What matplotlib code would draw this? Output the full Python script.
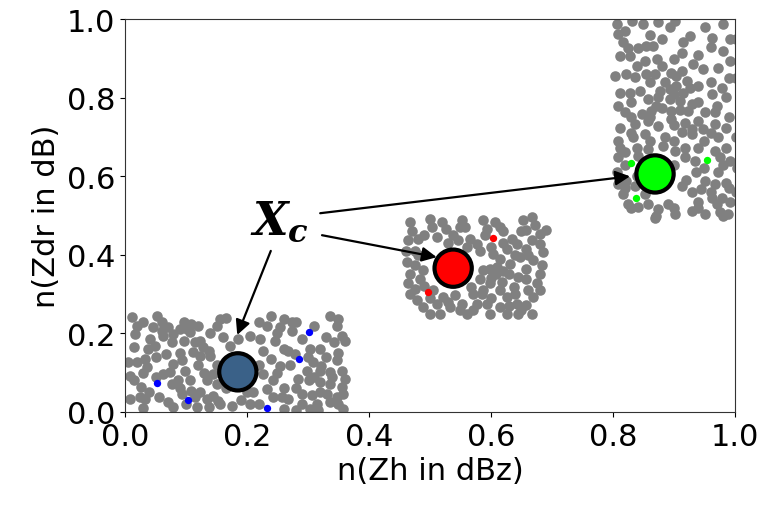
import numpy as np
import matplotlib
matplotlib.use("Agg")
import matplotlib.pyplot as plt

plt.rcParams['mathtext.fontset'] = 'custom'
plt.rcParams['mathtext.it'] = 'DejaVu Serif:italic:bold'
plt.rcParams['mathtext.rm'] = 'DejaVu Serif:bold'

# ---- gray scattered samples, three clusters (data coords) ----
cluster_low = np.array([
    [0.011,0.241],[0.030,0.228],[0.052,0.243],[0.096,0.228],[0.109,0.224],[0.156,0.237],[0.150,0.220],
    [0.016,0.198],[0.046,0.215],[0.060,0.207],[0.071,0.215],[0.063,0.194],[0.079,0.198],[0.077,0.177],
    [0.101,0.211],[0.107,0.203],[0.014,0.165],[0.041,0.186],[0.049,0.169],[0.038,0.160],[0.096,0.181],
    [0.115,0.177],[0.123,0.181],[0.128,0.165],[0.137,0.156],[0.139,0.143],[0.005,0.126],[0.019,0.126],
    [0.033,0.135],[0.036,0.114],[0.068,0.148],[0.079,0.122],[0.093,0.131],[0.098,0.105],[0.112,0.152],
    [0.123,0.143],[0.172,0.169],[0.008,0.092],[0.014,0.080],[0.027,0.063],[0.025,0.037],[0.033,0.033],
    [0.063,0.097],[0.074,0.101],[0.077,0.071],[0.087,0.080],[0.107,0.080],[0.109,0.054],[0.134,0.080],
    [0.145,0.097],[0.008,0.033],[0.055,0.037],[0.071,0.025],[0.079,0.012],[0.093,0.046],[0.115,0.037],
    [0.123,0.050],[0.134,0.033],[0.145,0.041],[0.153,0.029],[0.156,0.020],[0.118,0.012],[0.137,0.012],
    [0.165,0.240],[0.185,0.185],[0.190,0.030],[0.175,0.015],[0.200,0.050],[0.165,0.060],
    [0.240,0.243],[0.260,0.237],[0.273,0.228],[0.336,0.245],[0.350,0.237],[0.347,0.220],[0.219,0.228],
    [0.232,0.220],[0.254,0.215],[0.273,0.207],[0.205,0.194],[0.221,0.186],[0.246,0.181],[0.290,0.186],
    [0.355,0.194],[0.361,0.181],[0.342,0.177],[0.320,0.160],[0.303,0.160],[0.268,0.156],[0.279,0.148],
    [0.227,0.156],[0.240,0.135],[0.254,0.118],[0.309,0.126],[0.322,0.118],[0.347,0.131],[0.298,0.105],
    [0.320,0.105],[0.336,0.101],[0.355,0.105],[0.361,0.084],[0.284,0.084],[0.301,0.080],[0.320,0.076],
    [0.336,0.071],[0.355,0.063],[0.232,0.059],[0.243,0.037],[0.257,0.037],[0.268,0.033],[0.219,0.021],
    [0.205,0.021],[0.290,0.046],[0.306,0.042],[0.314,0.021],[0.331,0.046],[0.347,0.037],[0.358,0.046],
    [0.336,0.025],[0.358,0.008],[0.260,0.008],[0.281,0.004],[0.317,0.004],[0.243,0.080],[0.227,0.097],
    [0.303,0.008],
    [0.020,0.220],[0.060,0.230],[0.090,0.210],[0.120,0.220],[0.140,0.200],[0.160,0.190],[0.050,0.140],
    [0.090,0.150],[0.120,0.120],[0.150,0.120],[0.030,0.100],[0.050,0.090],[0.130,0.100],[0.150,0.070],
    [0.040,0.050],[0.090,0.060],[0.100,0.020],[0.030,0.010],[0.250,0.200],[0.280,0.230],[0.310,0.220],
    [0.330,0.190],[0.260,0.160],[0.300,0.140],[0.330,0.140],[0.350,0.150],[0.250,0.100],[0.270,0.120],
    [0.310,0.090],[0.340,0.090],[0.260,0.060],[0.280,0.060],[0.320,0.050],[0.350,0.020],[0.290,0.020],
    [0.210,0.050],[0.220,0.120],
])

cluster_mid = np.array([
    [0.467,0.483],[0.500,0.492],[0.519,0.483],[0.503,0.471],[0.527,0.466],[0.552,0.488],[0.557,0.471],
    [0.587,0.488],[0.607,0.483],[0.593,0.466],[0.615,0.471],[0.653,0.488],[0.667,0.496],[0.672,0.475],
    [0.658,0.462],[0.680,0.454],[0.691,0.462],[0.464,0.437],[0.481,0.441],[0.475,0.411],[0.511,0.445],
    [0.538,0.450],[0.546,0.437],[0.566,0.441],[0.577,0.428],[0.634,0.441],[0.642,0.428],[0.626,0.416],
    [0.667,0.437],[0.680,0.428],[0.658,0.416],[0.686,0.407],[0.462,0.382],[0.475,0.373],[0.467,0.352],
    [0.489,0.361],[0.484,0.339],[0.582,0.411],[0.604,0.403],[0.615,0.390],[0.631,0.377],[0.648,0.394],
    [0.669,0.386],[0.683,0.373],[0.658,0.365],[0.464,0.327],[0.467,0.301],[0.478,0.284],[0.489,0.267],
    [0.500,0.250],[0.511,0.276],[0.522,0.293],[0.533,0.267],[0.541,0.297],[0.552,0.276],[0.560,0.250],
    [0.568,0.318],[0.582,0.339],[0.585,0.301],[0.598,0.327],[0.609,0.352],[0.618,0.331],[0.626,0.293],
    [0.637,0.318],[0.645,0.344],[0.658,0.339],[0.675,0.327],[0.669,0.293],[0.658,0.271],[0.642,0.276],
    [0.615,0.267],[0.598,0.250],[0.626,0.250],[0.645,0.250],[0.667,0.250],[0.593,0.276],[0.577,0.276],
    [0.475,0.314],[0.505,0.310],[0.516,0.250],[0.598,0.365],[0.587,0.361],[0.615,0.310],[0.587,0.310],
    [0.470,0.460],[0.490,0.450],[0.530,0.430],[0.560,0.420],[0.600,0.420],[0.620,0.430],[0.640,0.400],
    [0.660,0.400],[0.610,0.370],[0.630,0.350],[0.600,0.340],[0.620,0.360],[0.570,0.300],[0.600,0.290],
    [0.640,0.300],[0.660,0.310],[0.680,0.350],[0.680,0.310],[0.490,0.320],[0.500,0.290],[0.530,0.280],
    [0.550,0.260],[0.570,0.260],[0.630,0.270],[0.650,0.260],[0.480,0.400],[0.460,0.410],[0.590,0.450],
    [0.620,0.460],[0.650,0.460],[0.550,0.470],
])

cluster_high = np.array([
    [0.806,0.987],[0.831,0.996],[0.850,0.987],[0.874,0.992],[0.893,0.979],[0.902,0.996],[0.951,0.979],
    [0.962,0.953],[0.981,0.987],[0.992,0.949],[0.809,0.962],[0.817,0.941],[0.825,0.928],[0.841,0.928],
    [0.855,0.932],[0.866,0.932],[0.811,0.907],[0.828,0.907],[0.852,0.894],[0.872,0.898],[0.915,0.941],
    [0.926,0.958],[0.913,0.915],[0.932,0.885],[0.948,0.873],[0.973,0.877],[0.992,0.894],[0.803,0.856],
    [0.822,0.860],[0.836,0.852],[0.855,0.860],[0.869,0.860],[0.896,0.864],[0.904,0.856],[0.913,0.869],
    [0.921,0.843],[0.885,0.839],[0.877,0.818],[0.893,0.822],[0.904,0.830],[0.915,0.813],[0.926,0.826],
    [0.929,0.784],[0.910,0.792],[0.893,0.796],[0.874,0.801],[0.858,0.796],[0.844,0.818],[0.828,0.813],
    [0.811,0.813],[0.809,0.779],[0.820,0.763],[0.847,0.758],[0.863,0.767],[0.880,0.775],[0.896,0.767],
    [0.923,0.767],[0.951,0.763],[0.967,0.763],[0.962,0.809],[0.978,0.826],[0.986,0.801],
    [0.811,0.724],[0.836,0.733],[0.858,0.741],[0.874,0.729],[0.896,0.746],[0.918,0.737],[0.940,0.741],
    [0.967,0.733],[0.986,0.724],[0.809,0.690],[0.833,0.699],[0.852,0.707],[0.885,0.699],[0.913,0.712],
    [0.929,0.707],[0.948,0.720],[0.973,0.699],[0.811,0.673],[0.820,0.661],[0.839,0.673],[0.858,0.669],
    [0.882,0.678],[0.902,0.665],[0.918,0.673],[0.940,0.673],[0.967,0.665],[0.986,0.673],[0.809,0.648],
    [0.841,0.652],[0.918,0.648],[0.934,0.640],[0.975,0.648],[0.992,0.640],[0.806,0.610],[0.809,0.580],
    [0.822,0.589],[0.817,0.555],[0.825,0.529],[0.841,0.521],[0.858,0.529],[0.874,0.517],[0.891,0.529],
    [0.902,0.504],[0.869,0.495],[0.913,0.576],[0.929,0.559],[0.945,0.567],[0.937,0.610],[0.951,0.589],
    [0.973,0.610],[0.986,0.584],[0.967,0.580],[0.962,0.546],[0.978,0.546],[0.992,0.534],[0.940,0.534],
    [0.929,0.512],[0.951,0.504],[0.975,0.508],[0.989,0.504],[0.836,0.576],[0.852,0.555],
    [1.002,0.950],[1.002,0.850],[1.002,0.700],[1.002,0.560],[1.003,0.620],
    [0.820,0.970],[0.860,0.960],[0.880,0.950],[0.840,0.880],[0.880,0.880],[0.900,0.900],[0.940,0.910],
    [0.960,0.930],[0.980,0.920],[0.860,0.840],[0.900,0.810],[0.940,0.830],[0.960,0.840],[0.990,0.850],
    [0.830,0.790],[0.870,0.780],[0.910,0.770],[0.940,0.790],[0.970,0.780],[0.830,0.750],[0.860,0.750],
    [0.900,0.730],[0.930,0.720],[0.960,0.710],[0.990,0.750],[0.830,0.710],[0.860,0.690],[0.900,0.690],
    [0.950,0.690],[0.820,0.630],[0.900,0.630],[0.950,0.620],[0.980,0.630],[0.820,0.570],[0.840,0.600],
    [0.920,0.590],[0.960,0.560],[0.990,0.570],[0.830,0.520],[0.870,0.500],[0.900,0.520],[0.940,0.520],
    [0.970,0.530],[0.980,0.500],
])

# ---- highlighted samples per cluster ----
blue_x = [0.052, 0.104, 0.301, 0.286, 0.232]
blue_y = [0.074, 0.031, 0.203, 0.135, 0.010]
red_x = [0.604, 0.497]
red_y = [0.444, 0.305]
green_x = [0.830, 0.837, 0.955]
green_y = [0.633, 0.545, 0.641]

# ---- cluster centres X_c ----
centre_x = [0.185, 0.538, 0.869]
centre_y = [0.102, 0.366, 0.606]
centre_colors = ['#3a6188', '#ff0000', '#00ff00']

fig = plt.figure(figsize=(7.6, 5.06), dpi=100)
ax = fig.add_axes([0.1645, 0.184, 0.8025, 0.776])

for cl in (cluster_low, cluster_mid, cluster_high):
    ax.scatter(cl[:, 0], cl[:, 1], s=58, color='gray', linewidths=0, zorder=2)

ax.scatter(blue_x, blue_y, s=28, color='#0000ff', linewidths=0, zorder=3)
ax.scatter(red_x, red_y, s=28, color='#ff0000', linewidths=0, zorder=3)
ax.scatter(green_x, green_y, s=28, color='#00ff00', linewidths=0, zorder=3)

ax.scatter(centre_x, centre_y, s=720, c=centre_colors, edgecolors='black',
           linewidths=3, zorder=5)

ax.set_xlim(0, 1)
ax.set_ylim(0, 1)
ax.set_xticks([0.0, 0.2, 0.4, 0.6, 0.8, 1.0])
ax.set_yticks([0.0, 0.2, 0.4, 0.6, 0.8, 1.0])
ax.tick_params(labelsize=22)
for sp in ax.spines.values():
    sp.set_color('#333333')
ax.set_xlabel('n(Zh in dBz)', fontsize=22)
ax.set_ylabel('n(Zdr in dB)', fontsize=22)

ax.text(0.254, 0.485, r'$X_c$', fontsize=33, ha='center', va='center', zorder=6)

arrow_kw = dict(arrowstyle='-|>', color='black', lw=1.6, mutation_scale=22,
                shrinkA=0, shrinkB=0)
ax.annotate('', xy=(0.828, 0.600), xytext=(0.320, 0.506), arrowprops=arrow_kw, zorder=6)
ax.annotate('', xy=(0.511, 0.394), xytext=(0.323, 0.450), arrowprops=arrow_kw, zorder=6)
ax.annotate('', xy=(0.184, 0.196), xytext=(0.239, 0.410), arrowprops=arrow_kw, zorder=6)

fig.savefig('out.png', dpi=100)
